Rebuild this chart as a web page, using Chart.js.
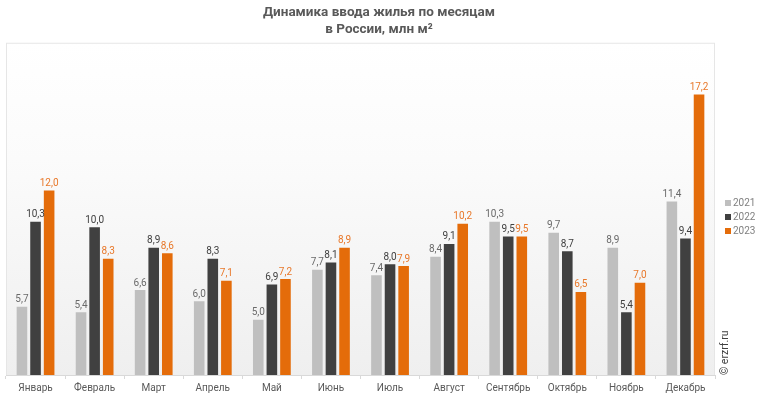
<!DOCTYPE html>
<html>
<head>
<meta charset="utf-8">
<script src="https://cdn.jsdelivr.net/npm/chart.js@4/dist/chart.umd.min.js"></script>
<style>
  html, body { margin: 0; padding: 0; background: #fff; }
  #wrap { position: relative; width: 758px; height: 397px; }
  #legend { position: absolute; left: 725px; top: 196px; font: 10px Roboto, sans-serif; color: #7f7f7f; }
  #legend div { height: 14px; line-height: 14px; white-space: nowrap; }
  #legend span { display: inline-block; width: 6px; height: 6px; margin-right: 2px; vertical-align: 0px; }
  #wm { position: absolute; left: 725px; top: 375px; transform-origin: 0 0; transform: rotate(-90deg);
        font: 10.5px Roboto, sans-serif; color: #404040; white-space: nowrap; line-height: 12px; margin-left: -6px; }
</style>
</head>
<body>
<div id="wrap">
  <canvas id="c"></canvas>
  <div id="legend"></div>
  <div id="wm">© erzrf.ru</div>
</div>
<script>
const categories = ['Январь','Февраль','Март','Апрель','Май','Июнь','Июль','Август','Сентябрь','Октябрь','Ноябрь','Декабрь'];
const seriesNames = ['2021','2022','2023'];
const values2021 = [5.7, 5.4, 6.6, 6.0, 5.0, 7.7, 7.4, 8.4, 10.3, 9.7, 8.9, 11.4];
const values2022 = [10.3, 10.0, 8.9, 8.3, 6.9, 8.1, 8.0, 9.1, 9.5, 8.7, 5.4, 9.4];
const values2023 = [12.0, 8.3, 8.6, 7.1, 7.2, 8.9, 7.9, 10.2, 9.5, 6.5, 7.0, 17.2];
const titleLines = ['Динамика ввода жилья по месяцам', 'в России, млн м²'];

const barColors = ['#bfbfbf', '#404040', '#e46c0a'];
const labelColors = ['#6a6a6a', '#404040', '#e8782a'];

const legendEl = document.getElementById('legend');
seriesNames.forEach((n, i) => {
  const d = document.createElement('div');
  d.innerHTML = '<span style="background:' + barColors[i] + '"></span>' + n;
  legendEl.appendChild(d);
});

const bgPlugin = {
  id: 'bgPlugin',
  beforeDraw(chart) {
    const {ctx, chartArea: a} = chart;
    ctx.save();
    const g = ctx.createLinearGradient(0, a.top, 0, a.bottom);
    g.addColorStop(0, '#ffffff');
    g.addColorStop(0.35, '#fbfbfb');
    g.addColorStop(1, '#efefef');
    ctx.fillStyle = g;
    ctx.fillRect(a.left, a.top, a.right - a.left, a.bottom - a.top);
    ctx.strokeStyle = '#e6e6e6';
    ctx.lineWidth = 1;
    ctx.strokeRect(a.left + 0.5, a.top + 0.5, a.right - a.left - 1, a.bottom - a.top);
    ctx.restore();
  }
};

const valueLabels = {
  id: 'valueLabels',
  afterDatasetsDraw(chart) {
    const {ctx} = chart;
    ctx.save();
    ctx.font = '10px Roboto, sans-serif';
    ctx.textAlign = 'center';
    ctx.textBaseline = 'bottom';
    chart.data.datasets.forEach((ds, di) => {
      const meta = chart.getDatasetMeta(di);
      ctx.fillStyle = labelColors[di];
      meta.data.forEach((bar, i) => {
        const v = ds.data[i];
        ctx.fillText(v.toFixed(1).replace('.', ','), bar.x, bar.y - 2);
      });
    });
    ctx.restore();
  }
};

new Chart(document.getElementById('c'), {
  type: 'bar',
  data: {
    labels: categories,
    datasets: [values2021, values2022, values2023].map((vals, i) => ({
      label: seriesNames[i],
      data: vals,
      backgroundColor: barColors[i],
      borderWidth: 0,
      categoryPercentage: 0.69,
      barPercentage: 0.78
    }))
  },
  options: {
    responsive: true,
    maintainAspectRatio: false,
    animation: false,
    layout: { padding: 0 },
    plugins: {
      legend: { display: false },
      tooltip: { enabled: false },
      title: {
        display: true,
        text: titleLines,
        color: '#595959',
        font: { family: 'Roboto, sans-serif', size: 13.5, weight: 'bold', lineHeight: 1.25 },
        padding: { top: 4, bottom: 5 }
      }
    },
    scales: {
      x: {
        offset: true,
        grid: { display: true, drawOnChartArea: false, drawTicks: true, tickLength: 4, color: '#d9d9d9', offset: true },
        border: { display: true, color: '#d9d9d9' },
        ticks: { color: '#595959', font: { family: 'Roboto, sans-serif', size: 10 }, padding: 3, maxRotation: 0, autoSkip: false }
      },
      y: {
        position: 'left',
        min: 2,
        max: 20,
        grid: { display: false },
        border: { display: false },
        ticks: { display: false },
        afterFit(s) { s.width = 6; }
      },
      y2: {
        position: 'right',
        min: 2,
        max: 20,
        grid: { display: false },
        border: { display: false },
        ticks: { display: false },
        afterFit(s) { s.width = 43; }
      }
    }
  },
  plugins: [bgPlugin, valueLabels]
});
</script>
</body>
</html>
